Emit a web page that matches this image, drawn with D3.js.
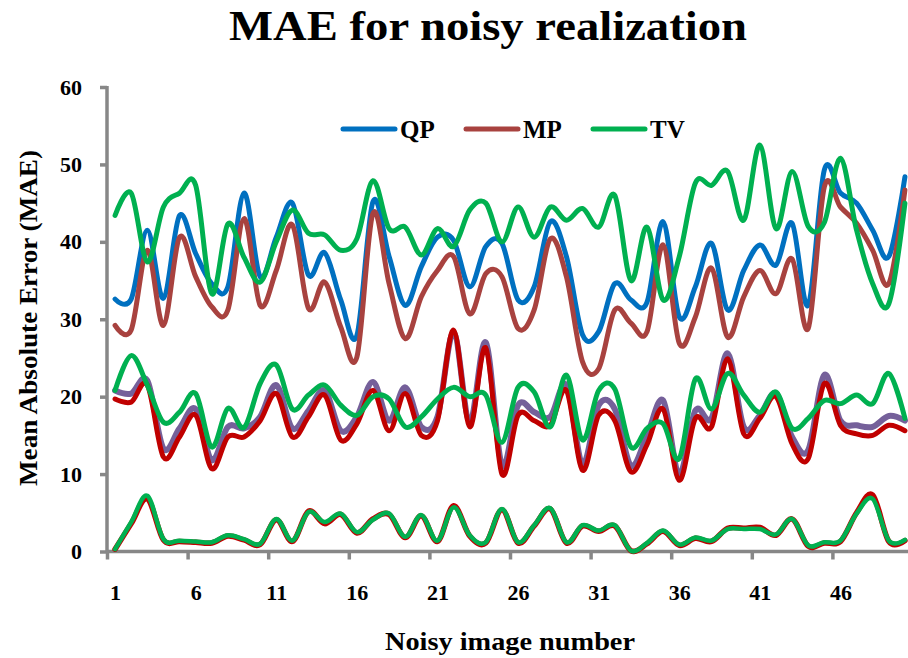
<!DOCTYPE html>
<html>
<head>
<meta charset="utf-8">
<script src="https://cdn.jsdelivr.net/npm/d3@7/dist/d3.min.js"></script>
<style>
  html, body { margin: 0; padding: 0; background: #fff; }
  svg { display: block; }
  text { font-family: "Liberation Serif", "DejaVu Serif", serif; font-weight: bold; fill: #000; }
</style>
</head>
<body>
<svg id="chart" width="908" height="658"></svg>
<script>
// Image index (category axis)
const categories = [1,2,3,4,5,6,7,8,9,10,11,12,13,14,15,16,17,18,19,20,21,22,23,24,25,
                    26,27,28,29,30,31,32,33,34,35,36,37,38,39,40,41,42,43,44,45,46,47,48,49,50];
const xTickLabels = [1, 6, 11, 16, 21, 26, 31, 36, 41, 46];
const yTickValues = [0, 10, 20, 30, 40, 50, 60];

// Upper band
const qpHigh = [32.6, 32.6, 41.5, 32.7, 43.4, 38.5, 34.6, 34.2, 46.3, 35.5,
                40.6, 45.0, 35.7, 38.6, 32.5, 27.9, 45.2, 38.1, 31.8, 36.8,
                40.6, 40.2, 34.2, 39.4, 39.8, 32.5, 34.2, 42.6, 38.1, 28.0,
                28.4, 34.6, 32.5, 32.2, 42.6, 30.3, 34.2, 39.8, 31.2, 36.3,
                39.6, 37.0, 42.4, 31.8, 49.3, 46.3, 45.0, 41.5, 38.1, 48.4];
const mpHigh = [29.2, 28.6, 38.9, 29.2, 40.6, 35.5, 31.6, 31.2, 43.0, 31.8,
                36.3, 42.2, 31.4, 34.8, 29.0, 25.1, 43.7, 34.6, 27.5, 32.9,
                36.3, 38.1, 30.7, 35.9, 35.5, 28.8, 31.2, 40.4, 35.5, 24.5,
                23.6, 31.2, 29.5, 28.4, 39.6, 26.9, 30.3, 36.6, 27.7, 32.9,
                36.3, 33.3, 37.8, 28.8, 47.1, 44.5, 42.4, 38.9, 34.6, 46.7];
const tvHigh = [43.4, 46.3, 37.4, 44.5, 46.3, 47.3, 33.3, 42.3, 38.0, 34.8,
                40.0, 44.1, 41.1, 40.9, 38.9, 40.4, 47.9, 41.7, 41.9, 38.3,
                41.7, 39.4, 44.1, 45.0, 40.0, 44.5, 40.6, 44.5, 42.8, 44.3,
                41.9, 46.0, 35.0, 41.9, 32.5, 38.1, 47.6, 47.3, 49.1, 42.8,
                52.5, 41.7, 49.1, 42.0, 42.5, 50.8, 41.5, 34.6, 32.0, 45.0];

// Middle band
const qpMid = [20.8, 20.4, 22.1, 13.3, 15.9, 18.4, 11.8, 16.1, 15.9, 17.4,
               21.5, 15.9, 18.2, 20.8, 15.6, 17.4, 21.9, 16.9, 21.2, 16.1,
               17.4, 28.3, 16.7, 27.0, 11.1, 18.9, 18.0, 17.4, 21.5, 11.3,
               18.9, 18.4, 11.1, 15.0, 19.5, 10.0, 18.2, 17.2, 25.6, 16.1,
               17.6, 20.4, 14.8, 13.1, 22.8, 16.9, 16.3, 16.1, 17.5, 16.9];
const mpMid = [19.7, 19.3, 21.5, 12.2, 14.8, 17.6, 10.7, 14.8, 14.8, 16.9,
               20.4, 14.8, 17.4, 20.2, 14.4, 16.5, 20.8, 15.6, 20.4, 15.0,
               16.9, 28.6, 16.1, 26.3, 10.0, 17.6, 16.9, 16.3, 20.8, 10.5,
               17.6, 16.9, 10.3, 13.8, 18.4, 9.2, 17.2, 16.1, 24.9, 15.2,
               17.2, 20.0, 13.9, 12.0, 21.7, 16.3, 15.2, 15.0, 16.3, 15.6];
const tvMid = [20.8, 25.3, 21.5, 16.7, 18.0, 20.4, 13.5, 18.5, 16.0, 21.7,
               24.1, 18.4, 20.2, 21.5, 18.9, 17.6, 20.0, 19.7, 16.1, 17.4,
               19.7, 21.2, 20.0, 20.2, 14.1, 21.2, 20.6, 16.1, 22.8, 14.4,
               20.8, 21.0, 13.5, 15.9, 16.5, 12.0, 22.3, 18.4, 23.0, 20.2,
               18.0, 20.6, 15.9, 17.2, 19.5, 19.1, 20.2, 19.1, 23.0, 17.2];

// Lower band
const mpLow = [0.3, 3.6, 6.8, 1.5, 1.3, 1.2, 1.1, 2.0, 1.5, 0.9,
               4.1, 1.3, 5.2, 3.6, 4.8, 2.4, 4.2, 4.8, 1.8, 4.6,
               1.3, 5.9, 2.0, 1.1, 5.4, 1.1, 3.3, 5.5, 1.1, 3.3,
               2.6, 3.3, 0.1, 1.0, 2.6, 0.8, 1.7, 1.3, 3.0, 3.0,
               3.1, 2.1, 4.2, 0.7, 1.1, 1.3, 5.0, 7.3, 1.3, 1.4];
const tvLow = [0.3, 3.8, 7.2, 1.6, 1.4, 1.3, 1.2, 2.1, 1.6, 1.0,
               4.2, 1.4, 5.1, 3.8, 4.9, 2.5, 4.1, 4.9, 1.9, 4.7,
               1.4, 5.7, 2.1, 1.2, 5.5, 1.2, 3.4, 5.6, 1.2, 3.4,
               2.7, 3.4, 0.1, 1.1, 2.7, 0.9, 1.8, 1.4, 2.9, 2.9,
               2.9, 2.2, 4.2, 0.8, 1.2, 1.4, 4.9, 6.8, 1.4, 1.5];

// Series in drawing order (later ones sit on top)
const series = [
  { name: "QP", values: qpHigh, color: "#0070C0", width: 5 },
  { name: "MP", values: mpHigh, color: "#A8423F", width: 5 },
  { name: "TV", values: tvHigh, color: "#00B050", width: 5 },
  { name: "QP", values: qpMid,  color: "#75609A", width: 6 },
  { name: "MP", values: mpMid,  color: "#C00000", width: 5 },
  { name: "TV", values: tvMid,  color: "#00B050", width: 5 },
  { name: "MP", values: mpLow,  color: "#C00000", width: 5.5 },
  { name: "TV", values: tvLow,  color: "#00B050", width: 4.5 }
];
const legendItems = [
  { name: "QP", color: "#0070C0" },
  { name: "MP", color: "#A8423F" },
  { name: "TV", color: "#00B050" }
];

const svg = d3.select("#chart");
const axisColor = "#878787";
const serif = '"Liberation Serif", serif';

const x0 = 107, step = 16.12;
const x = d3.scaleLinear()
  .domain([0.5, categories.length + 0.5])
  .range([x0, x0 + step * categories.length]);
const y = d3.scaleLinear().domain([0, 60]).range([551.5, 87]);

// Title
svg.append("text")
  .attr("x", 488).attr("y", 40)
  .attr("text-anchor", "middle")
  .attr("textLength", 518)
  .attr("lengthAdjust", "spacingAndGlyphs")
  .style("font-size", "43px")
  .text("MAE for noisy realization");

// Y axis
const yAxis = svg.append("g")
  .attr("transform", `translate(${x0},0)`)
  .call(d3.axisLeft(y).tickValues(yTickValues).tickSize(7).tickPadding(18).tickFormat(d3.format("d")));
yAxis.select(".domain").attr("stroke", axisColor).attr("stroke-width", 3.5)
  .attr("d", `M0,${y(0)}V${y(60) - 1}`);
yAxis.selectAll(".tick line").attr("stroke", axisColor).attr("stroke-width", 3.5);
yAxis.selectAll(".tick text")
  .style("font-family", serif)
  .style("font-weight", "bold")
  .style("font-size", "22px")
  .attr("fill", "#000");

// X axis: tick marks between categories, labels on categories
const tickPositions = d3.range(0, categories.length + 1, 5).map(d => d + 0.5);
const xTicks = svg.append("g")
  .attr("transform", `translate(0,${y(0)})`)
  .call(d3.axisBottom(x).tickValues(tickPositions).tickSize(8).tickFormat(""));
xTicks.select(".domain").attr("stroke", axisColor).attr("stroke-width", 3.5)
  .attr("d", `M${x0},0H${x0 + step * categories.length}`);
xTicks.selectAll(".tick line").attr("stroke", axisColor).attr("stroke-width", 3.5);

const xLabels = svg.append("g")
  .attr("transform", `translate(0,${y(0)})`)
  .call(d3.axisBottom(x).tickValues(xTickLabels).tickSize(0).tickPadding(33).tickFormat(d3.format("d")));
xLabels.select(".domain").remove();
xLabels.selectAll(".tick text")
  .style("font-family", serif)
  .style("font-weight", "bold")
  .style("font-size", "22px")
  .attr("fill", "#000");

// Axis titles
svg.append("text")
  .attr("x", 510).attr("y", 650)
  .attr("text-anchor", "middle")
  .attr("textLength", 250)
  .attr("lengthAdjust", "spacingAndGlyphs")
  .style("font-size", "25px")
  .text("Noisy image number");

svg.append("text")
  .attr("transform", "translate(37,318) rotate(-90)")
  .attr("text-anchor", "middle")
  .attr("textLength", 336)
  .attr("lengthAdjust", "spacingAndGlyphs")
  .style("font-size", "25px")
  .text("Mean Absolute Error (MAE)");

// Smoothed lines
const line = d3.line()
  .x((d, i) => x(categories[i]))
  .y(d => y(d))
  .curve(d3.curveCatmullRom.alpha(0));

svg.append("g")
  .selectAll("path")
  .data(series)
  .join("path")
  .attr("d", s => line(s.values))
  .attr("fill", "none")
  .attr("stroke", s => s.color)
  .attr("stroke-width", s => s.width)
  .attr("stroke-linejoin", "round")
  .attr("stroke-linecap", "round");

// Legend
const legendX = [343, 466, 593];
const legend = svg.append("g");
legendItems.forEach((item, i) => {
  const g = legend.append("g").attr("transform", `translate(${legendX[i]},129)`);
  g.append("line")
    .attr("x1", 0).attr("x2", 52)
    .attr("y1", 0).attr("y2", 0)
    .attr("stroke", item.color).attr("stroke-width", 5)
    .attr("stroke-linecap", "round");
  g.append("text")
    .attr("x", 57).attr("y", 8.5)
    .style("font-size", "25px")
    .text(item.name);
});
</script>
</body>
</html>
